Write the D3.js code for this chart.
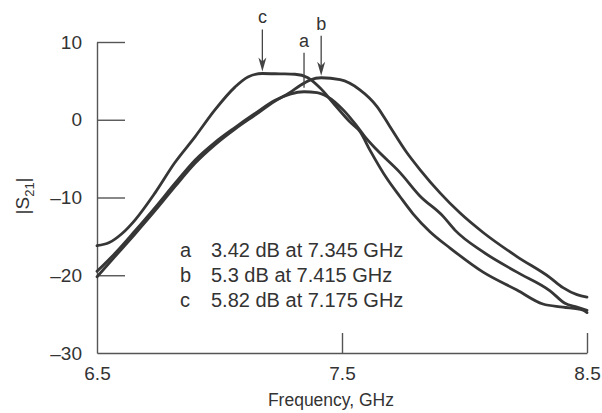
<!DOCTYPE html>
<html>
<head>
<meta charset="utf-8">
<script src="https://cdn.jsdelivr.net/npm/d3@7"></script>
<style>
  html, body { margin: 0; padding: 0; background: #fff; }
  svg { display: block; }
  text { font-family: "Liberation Sans", Arial, sans-serif; fill: #333; }
</style>
</head>
<body>
<svg id="chart" width="602" height="413"></svg>
<script>
// ---- data ----
const xTicks = [6.5, 7.5, 8.5];
const yTicks = [10, 0, -10, -20, -30];

const freqA = [6.5, 6.573, 6.655, 6.737, 6.818, 6.9, 6.982, 7.063, 7.145, 7.227, 7.288, 7.345, 7.398, 7.439, 7.504, 7.553, 7.594, 7.643, 7.737, 7.818, 7.912, 7.961, 8.076, 8.214, 8.349, 8.41, 8.459, 8.5];
const magA  = [-19.5, -17.2, -14.3, -11.3, -8.2, -5.2, -2.9, -1.0, 0.8, 2.5, 3.3, 3.6, 3.5, 3.0, 1.3, -0.5, -2.2, -3.9, -6.8, -9.8, -12.4, -14.2, -17.0, -19.6, -22.0, -23.6, -24.1, -24.5];

const freqB = [6.5, 6.573, 6.655, 6.737, 6.818, 6.9, 6.982, 7.063, 7.145, 7.227, 7.288, 7.329, 7.369, 7.415, 7.492, 7.573, 7.643, 7.696, 7.765, 7.818, 7.9, 7.982, 8.076, 8.214, 8.349, 8.402, 8.459, 8.5];
const magB  = [-20.2, -17.6, -14.7, -11.7, -8.6, -5.6, -3.2, -1.2, 0.6, 2.4, 3.5, 4.4, 5.1, 5.4, 5.15, 3.85, 1.7, -0.9, -4.25, -6.4, -9.4, -12.0, -14.5, -17.6, -20.3, -21.6, -22.5, -22.8];

const freqC = [6.5, 6.55, 6.6, 6.655, 6.737, 6.818, 6.9, 6.982, 7.063, 7.116, 7.175, 7.247, 7.308, 7.361, 7.41, 7.471, 7.533, 7.573, 7.614, 7.684, 7.737, 7.79, 7.859, 7.941, 8.076, 8.214, 8.32, 8.402, 8.484, 8.5];
const magC  = [-16.2, -15.8, -14.7, -12.9, -9.4, -5.5, -2.2, 1.3, 4.2, 5.5, 5.95, 5.9, 5.85, 5.4, 4.1, 1.9, -0.3, -1.5, -3.9, -7.6, -9.9, -12.1, -14.4, -16.5, -19.6, -21.9, -23.7, -24.1, -24.5, -24.8];

const peakLabels = ["a", "b", "c"];
const peakFreqs  = [7.345, 7.415, 7.175];
const peakMags   = [3.6, 5.4, 5.95];
const legendLines = ["3.42 dB at 7.345 GHz", "5.3 dB at 7.415 GHz", "5.82 dB at 7.175 GHz"];

const xTitle = "Frequency, GHz";

// ---- drawing ----
const svg = d3.select("#chart");
const x = d3.scaleLinear().domain([6.5, 8.5]).range([97, 587]);
const y = d3.scaleLinear().domain([-30, 10]).range([353, 42]);

const axisColor = "#555";
const fontFam = "'Liberation Sans', Arial, sans-serif";

// y axis
const gy = svg.append("g")
  .attr("transform", `translate(${x(6.5)},0)`)
  .call(d3.axisLeft(y).tickValues(yTicks).tickSize(-28).tickSizeOuter(0).tickPadding(15)
        .tickFormat(d => d < 0 ? "\u2013" + Math.abs(d) : String(d)));
gy.select(".domain").attr("stroke", axisColor).attr("stroke-width", 1.4);
gy.selectAll(".tick line").attr("stroke", axisColor).attr("stroke-width", 1.4);
gy.selectAll(".tick").filter(d => d === -30).select("line").remove();
gy.selectAll(".tick text").attr("font-size", 19).attr("fill", "#333").style("font-family", fontFam);

// x axis
const gx = svg.append("g")
  .attr("transform", `translate(0,${y(-30)})`)
  .call(d3.axisBottom(x).tickValues(xTicks).tickSize(-20).tickSizeOuter(0).tickPadding(14)
        .tickFormat(d3.format(".1f")));
gx.select(".domain").attr("stroke", axisColor).attr("stroke-width", 1.4);
gx.selectAll(".tick line").attr("stroke", axisColor).attr("stroke-width", 1.4);
gx.selectAll(".tick").filter(d => d === 6.5).select("line").remove();
gx.selectAll(".tick text").attr("font-size", 19).attr("fill", "#333").style("font-family", fontFam);

// axis titles
svg.append("text")
  .attr("x", x(7.455))
  .attr("y", 406)
  .attr("text-anchor", "middle")
  .attr("font-size", 17.5)
  .text(xTitle);

const yl = svg.append("text")
  .attr("transform", `translate(29,${y(-9.8)}) rotate(-90)`)
  .attr("text-anchor", "middle")
  .attr("font-size", 19);
yl.append("tspan").text("|S");
yl.append("tspan").attr("font-size", 13).attr("dy", 5).text("21");
yl.append("tspan").attr("dy", -5).text("|");

// curves
const line = d3.line()
  .x(d => x(d[0]))
  .y(d => y(d[1]))
  .curve(d3.curveMonotoneX);

const series = [
  d3.zip(freqA, magA),
  d3.zip(freqB, magB),
  d3.zip(freqC, magC)
];
svg.append("g").selectAll("path")
  .data(series)
  .join("path")
  .attr("d", line)
  .attr("fill", "none")
  .attr("stroke", "#363636")
  .attr("stroke-width", 2.8)
  .attr("stroke-linejoin", "round")
  .attr("stroke-linecap", "round");

// peak annotations: label baseline height above the peak (px), gap, and arrow head
const annStyle = {
  a: { rise: 45, gap: 4, head: false },
  b: { rise: 48, gap: 2, head: true },
  c: { rise: 50, gap: 2, head: true }
};
peakLabels.forEach((lab, i) => {
  const px = x(peakFreqs[i]);
  const py = y(peakMags[i]);
  const s = annStyle[lab];
  const ty = py - s.rise;
  const tip = py - s.gap;
  svg.append("text")
    .attr("x", px).attr("y", ty)
    .attr("text-anchor", "middle")
    .attr("font-size", 18)
    .text(lab);
  svg.append("line")
    .attr("x1", px).attr("x2", px)
    .attr("y1", ty + 6)
    .attr("y2", s.head ? tip - 8 : tip)
    .attr("stroke", "#444")
    .attr("stroke-width", 1.3);
  if (s.head) {
    const p = d3.path();
    p.moveTo(px, tip);
    p.lineTo(px - 4, tip - 14);
    p.lineTo(px, tip - 10);
    p.lineTo(px + 4, tip - 14);
    p.closePath();
    svg.append("path").attr("d", p.toString()).attr("fill", "#444");
  }
});

// legend
const lg = svg.append("g");
peakLabels.forEach((lab, i) => {
  lg.append("text")
    .attr("x", 180).attr("y", 257 + i * 25)
    .attr("font-size", 20)
    .text(lab);
  lg.append("text")
    .attr("x", 211).attr("y", 257 + i * 25)
    .attr("font-size", 20)
    .text(legendLines[i]);
});
</script>
</body>
</html>
